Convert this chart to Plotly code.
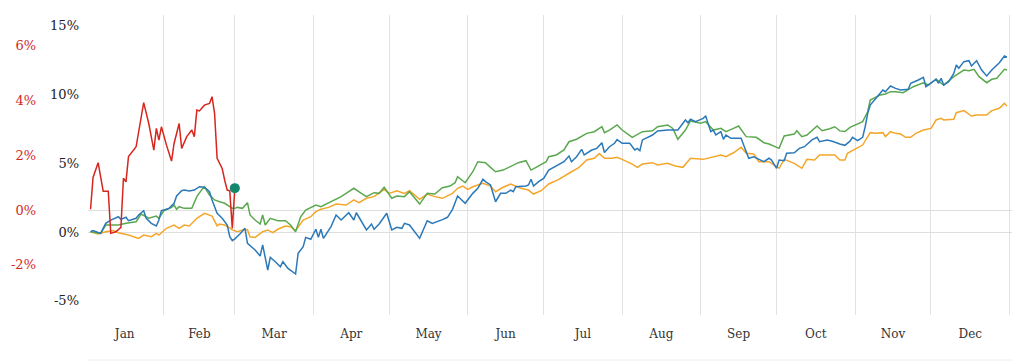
import pandas as pd
import plotly.graph_objects as go

# day offsets from 2019-01-01 and values (percent)
blue_days = [2,3,6,8,10,13,14,16,17,20,21,23,24,26,28,29,30,33,35,36,38,39,41,43,45,47,49,50,52,54,56,57,58,59,61,63,64,67,69,70,72,73,75,77,78,80,83,84,86,87,89,91,92,93,94,97,99,101,104,106,107,109,111,113,114,116,119,121,123,125,126,128,130,132,135,137,141,143,145,147,150,153,155,157,158,160,162,164,166,168,169,170,174,175,176,177,179,181,183,186,189,191,192,194,196,197,200,202,204,205,207,209,210,212,215,217,218,219,220,224,226,230,234,237,238,239,241,244,245,247,248,249,251,252,253,255,259,260,262,264,266,268,270,271,273,274,276,277,280,282,284,287,289,290,293,295,298,300,302,303,305,307,308,309,310,312,315,316,318,320,322,325,326,329,331,332,334,336,337,338,339,341,343,344,345,347,349,350,352,354,356,358,361,363,364]
blue_vals = [0.02,0.1,-0.1,0.63,0.87,1.11,0.92,1.07,0.82,1.0,1.24,1.55,1.0,0.63,0.44,0.87,1.55,1.72,2.09,2.62,3.0,3.05,2.98,3.05,3.29,3.25,2.93,2.33,1.36,1.0,0.51,-0.34,-0.63,-0.5,-0.15,0.27,-0.82,-1.31,-1.74,-0.94,-2.76,-1.84,-2.16,-2.52,-2.16,-2.64,-3.05,-1.55,-1.07,-0.39,-0.53,0.2,-0.39,0.2,-0.46,0.39,1.24,0.87,1.4,0.87,1.4,0.75,0.15,0.58,0.2,0.58,1.36,0.15,0.34,0.27,0.63,0.51,0.02,-0.46,0.82,0.63,0.9,1.07,1.65,2.62,2.09,2.81,3.18,3.83,3.66,3.42,2.2,2.81,2.81,3.05,2.93,3.29,3.34,3.42,3.83,3.34,3.66,3.9,4.5,4.8,5.11,5.52,5.11,5.47,6.01,5.6,5.96,6.08,6.49,5.78,6.2,6.45,6.72,6.45,6.45,5.96,6.08,5.91,6.69,7.05,7.34,7.41,7.41,8.14,7.94,8.19,8.02,8.26,8.43,7.29,7.41,7.05,7.29,6.74,7.05,6.81,6.81,6.32,5.36,5.47,5.28,5.11,5.36,5.23,4.63,5.23,5.18,5.72,5.76,6.08,6.2,6.69,6.88,6.56,6.69,6.6,6.4,6.3,6.6,6.88,6.64,6.88,7.65,8.62,9.23,9.64,10.32,10.2,10.61,10.44,10.32,10.37,10.81,11.05,11.24,10.56,10.81,11.1,10.81,11.17,10.68,10.92,11.53,12.14,11.9,12.38,12.45,12.06,12.45,11.77,11.34,11.77,12.3,12.79,12.7]

green_days = [2,6,8,13,16,20,22,25,28,29,31,34,35,36,37,39,42,44,46,47,49,51,53,55,58,59,60,62,64,65,67,69,70,71,73,76,79,81,83,85,87,91,93,97,101,104,106,109,111,114,116,118,121,123,126,128,130,132,135,138,141,144,146,147,150,153,155,158,160,162,165,168,171,174,176,178,182,183,186,189,191,194,198,201,204,205,207,210,212,216,220,224,226,230,232,234,237,239,243,245,248,251,253,256,258,261,265,268,270,274,276,280,281,283,285,289,291,294,296,298,300,302,307,309,310,314,316,318,320,323,327,331,333,336,339,343,345,347,349,351,353,356,358,360,363,364]
green_vals = [0.02,-0.1,0.51,0.51,0.63,0.75,1.31,1.0,1.16,1.0,1.55,1.79,1.96,1.65,1.84,1.72,1.72,2.57,3.1,3.29,2.69,2.33,2.2,2.09,1.72,1.72,1.79,1.72,2.13,1.24,0.87,0.58,1.24,0.51,1.0,0.82,0.82,0.51,0.02,1.11,1.6,1.96,1.84,2.2,2.57,2.93,3.18,2.81,2.57,2.86,2.81,3.25,2.45,2.62,2.57,2.93,2.45,2.03,2.81,2.76,3.22,3.34,3.58,4.02,3.58,4.38,5.11,5.04,4.7,4.38,4.5,4.8,5.04,5.18,4.5,4.7,5.11,5.47,5.6,5.96,6.56,6.74,7.17,7.29,7.65,7.22,7.41,7.78,7.41,6.88,7.29,7.36,7.65,7.78,7.53,6.74,7.41,8.07,7.9,8.02,7.41,7.53,7.29,7.53,7.7,6.93,6.88,6.49,6.4,6.08,6.98,7.12,7.36,6.93,7.05,7.7,7.36,7.5,7.65,7.35,7.3,7.6,8.02,8.74,9.59,9.96,10.03,10.2,10.2,10.12,10.56,10.85,10.68,11.1,10.68,11.29,11.53,11.77,11.72,11.82,11.29,10.85,11.1,11.17,11.82,11.77]

orange_days = [2,5,8,11,13,17,21,23,26,28,29,32,35,37,39,41,44,47,50,52,53,55,57,58,60,63,64,65,67,70,72,74,76,79,81,83,86,89,91,93,96,99,103,106,108,111,114,118,120,123,126,128,132,135,138,141,145,147,149,151,153,157,160,162,165,168,172,175,177,180,183,187,191,195,198,201,203,205,208,210,212,216,218,220,224,226,230,233,236,239,244,247,251,253,256,259,261,264,266,270,274,276,280,283,285,288,290,292,294,296,298,300,301,304,307,310,312,315,316,318,320,322,324,326,328,331,334,336,338,339,343,344,347,350,352,356,358,361,363,364]
orange_vals = [0.02,-0.15,0.02,0.1,-0.05,-0.22,-0.46,-0.22,-0.34,-0.1,-0.22,0.27,0.51,0.27,0.51,0.44,1.0,1.36,1.16,0.44,0.58,0.51,0.3,0.15,0.02,0.2,0.15,-0.34,-0.39,0.02,0.15,-0.05,0.2,0.44,0.39,0.1,0.87,1.11,1.48,1.65,1.79,2.03,1.96,2.33,2.13,2.45,2.57,3.1,2.81,3.0,2.81,3.0,2.38,2.76,2.57,2.45,2.81,3.18,3.34,3.1,3.29,3.54,3.34,2.93,3.25,3.49,3.18,3.05,2.76,3.0,3.49,3.83,4.27,4.7,5.23,5.36,5.7,5.36,5.36,5.43,5.28,4.94,4.7,4.94,5.04,4.87,4.99,4.8,4.7,5.36,5.28,5.43,5.6,5.47,5.76,6.16,5.72,5.67,5.11,5.11,4.63,5.28,4.99,4.63,5.28,5.23,5.6,5.6,5.6,5.6,5.23,5.23,5.72,6.01,6.32,7.22,7.17,7.22,6.93,7.29,7.17,7.12,6.88,6.88,7.17,7.41,7.53,8.14,8.26,8.14,8.19,8.67,8.82,8.43,8.5,8.5,8.82,8.99,9.35,9.16]

red_days = [2,3,5,7,9,10,12,14,15,16,17,20,23,25,27,28,29,30,32,34,35,37,38,40,42,43,44,45,47,49,50,51,52,54,55,56,57,58,59]
red_vals = [0.03,1.19,1.73,0.69,0.69,-0.85,-0.79,-0.63,1.16,1.03,1.95,2.31,3.92,3.16,2.19,2.98,2.55,3.04,2.37,1.79,2.43,3.16,2.25,2.68,2.92,2.68,3.65,3.62,3.83,3.89,4.14,3.53,1.89,1.52,1.09,0.73,0.70,-0.67,0.80]

left_ticks = [-5, 0, 5, 10, 15]
red_ticks = [-2, 0, 2, 4, 6]
month_start = "2019-01-01"

base = pd.Timestamp(month_start)
def to_dates(days):
    return base + pd.to_timedelta(days, unit="D")

FONT = "DejaVu Serif"
fig = go.Figure()
fig.add_trace(go.Scatter(x=to_dates(orange_days), y=orange_vals, mode="lines",
                         line=dict(color="#f4a62a", width=1.5), yaxis="y"))
fig.add_trace(go.Scatter(x=to_dates(green_days), y=green_vals, mode="lines",
                         line=dict(color="#5ba84f", width=1.5), yaxis="y"))
fig.add_trace(go.Scatter(x=to_dates(blue_days), y=blue_vals, mode="lines",
                         line=dict(color="#2b79b8", width=1.5), yaxis="y"))
fig.add_trace(go.Scatter(x=to_dates(red_days), y=red_vals, mode="lines",
                         line=dict(color="#d7261e", width=1.5), yaxis="y2"))
fig.add_trace(go.Scatter(x=to_dates(red_days[-1:]), y=red_vals[-1:], mode="markers",
                         marker=dict(color="#14876c", size=10), yaxis="y2"))

# the page body adds an 8px offset, so the figure is 8px smaller
W, H = 1016, 354
left_px, right_px = 80, 1004
fig.update_layout(
    width=W, height=H, showlegend=False,
    paper_bgcolor="white", plot_bgcolor="white",
    margin=dict(l=0, r=W - right_px, t=7, b=47, autoexpand=False),
    font=dict(family=FONT, size=12, color="#222"),
    xaxis=dict(type="date", range=["2019-01-02", "2020-01-02"],
               domain=[left_px / right_px, 1], automargin=False,
               dtick="M1", tickformat="%b", ticklabelmode="period",
               showgrid=True, gridcolor="#e2e2e2", gridwidth=1,
               zeroline=False, showline=False, ticks="",
               tickfont=dict(family=FONT, size=12, color="#333"),
               ticklabelstandoff=10),
    yaxis=dict(range=[-6.03, 15.77], tickvals=left_ticks,
               ticktext=[f"{v}%" for v in left_ticks], automargin=False,
               showgrid=False, zeroline=True, zerolinecolor="#dedede", zerolinewidth=1,
               showline=False, ticks="", anchor="x", ticklabelstandoff=8,
               tickfont=dict(family=FONT, size=13, color="#222")),
    yaxis2=dict(range=[-3.83, 7.12], tickvals=red_ticks,
                ticktext=[f"{v}%" for v in red_ticks], automargin=False,
                overlaying="y", side="left", anchor="free", position=28 / right_px,
                showgrid=False, zeroline=True, zerolinecolor="#dedede", zerolinewidth=1,
                showline=False, ticks="",
                tickfont=dict(family=FONT, size=13, color="#d2281e")),
    shapes=[dict(type="line", xref="x domain", yref="paper", x0=0, x1=1,
                 y0=-0.15, y1=-0.15, line=dict(color="#eeeeee", width=1))],
)
fig.write_html("out.html")
